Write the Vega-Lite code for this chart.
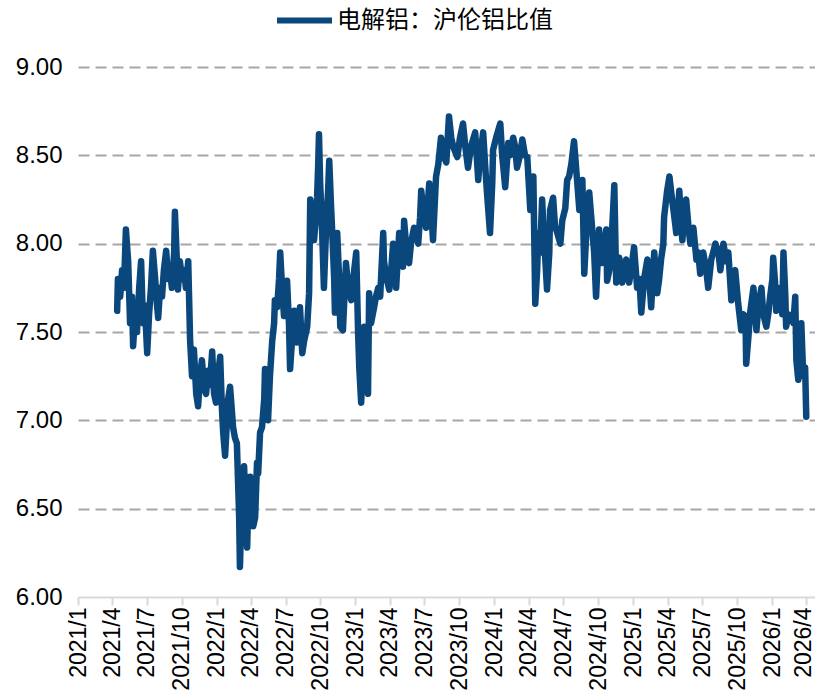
{
  "$schema": "https://vega.github.io/schema/vega-lite/v6.json",
  "width": 737,
  "height": 530,
  "autosize": {"type": "none"},
  "padding": {"left": 78, "top": 67, "right": 0, "bottom": 102},
  "background": "white",
  "config": {"view": {"stroke": null}, "font": "Liberation Sans"},
  "data": {
    "values": [
      {"date": "2021-04-14", "ratio": 7.62}, {"date": "2021-04-16", "ratio": 7.80}, {"date": "2021-04-22", "ratio": 7.70},
      {"date": "2021-04-27", "ratio": 7.85}, {"date": "2021-05-02", "ratio": 7.75}, {"date": "2021-05-07", "ratio": 8.08},
      {"date": "2021-05-13", "ratio": 7.90}, {"date": "2021-05-18", "ratio": 7.55}, {"date": "2021-05-23", "ratio": 7.70},
      {"date": "2021-05-26", "ratio": 7.42}, {"date": "2021-05-31", "ratio": 7.60}, {"date": "2021-06-05", "ratio": 7.50},
      {"date": "2021-06-11", "ratio": 7.75}, {"date": "2021-06-16", "ratio": 7.90}, {"date": "2021-06-21", "ratio": 7.55},
      {"date": "2021-06-26", "ratio": 7.65}, {"date": "2021-07-02", "ratio": 7.38}, {"date": "2021-07-07", "ratio": 7.60},
      {"date": "2021-07-12", "ratio": 7.75}, {"date": "2021-07-17", "ratio": 7.96}, {"date": "2021-07-23", "ratio": 7.80},
      {"date": "2021-07-28", "ratio": 7.65}, {"date": "2021-07-31", "ratio": 7.58}, {"date": "2021-08-05", "ratio": 7.75},
      {"date": "2021-08-10", "ratio": 7.70}, {"date": "2021-08-15", "ratio": 7.85}, {"date": "2021-08-21", "ratio": 7.96},
      {"date": "2021-08-26", "ratio": 7.80}, {"date": "2021-08-31", "ratio": 7.85}, {"date": "2021-09-05", "ratio": 7.75},
      {"date": "2021-09-11", "ratio": 7.95}, {"date": "2021-09-13", "ratio": 8.18}, {"date": "2021-09-19", "ratio": 7.85},
      {"date": "2021-09-21", "ratio": 7.74}, {"date": "2021-09-26", "ratio": 7.90}, {"date": "2021-10-02", "ratio": 7.80},
      {"date": "2021-10-07", "ratio": 7.85}, {"date": "2021-10-12", "ratio": 7.75}, {"date": "2021-10-18", "ratio": 7.90},
      {"date": "2021-10-23", "ratio": 7.45}, {"date": "2021-10-28", "ratio": 7.25}, {"date": "2021-11-02", "ratio": 7.40},
      {"date": "2021-11-08", "ratio": 7.15}, {"date": "2021-11-13", "ratio": 7.08}, {"date": "2021-11-18", "ratio": 7.25},
      {"date": "2021-11-23", "ratio": 7.34}, {"date": "2021-11-29", "ratio": 7.18}, {"date": "2021-12-04", "ratio": 7.15},
      {"date": "2021-12-09", "ratio": 7.28}, {"date": "2021-12-14", "ratio": 7.20}, {"date": "2021-12-20", "ratio": 7.39},
      {"date": "2021-12-25", "ratio": 7.15}, {"date": "2021-12-30", "ratio": 7.10}, {"date": "2022-01-04", "ratio": 7.25},
      {"date": "2022-01-10", "ratio": 7.36}, {"date": "2022-01-15", "ratio": 7.05}, {"date": "2022-01-18", "ratio": 6.93},
      {"date": "2022-01-23", "ratio": 6.80}, {"date": "2022-01-28", "ratio": 7.00}, {"date": "2022-01-31", "ratio": 7.12},
      {"date": "2022-02-05", "ratio": 7.19}, {"date": "2022-02-10", "ratio": 7.05}, {"date": "2022-02-13", "ratio": 6.96},
      {"date": "2022-02-18", "ratio": 6.90}, {"date": "2022-02-23", "ratio": 6.87}, {"date": "2022-02-26", "ratio": 6.66},
      {"date": "2022-03-01", "ratio": 6.45}, {"date": "2022-03-03", "ratio": 6.17}, {"date": "2022-03-06", "ratio": 6.40},
      {"date": "2022-03-09", "ratio": 6.66}, {"date": "2022-03-14", "ratio": 6.74}, {"date": "2022-03-17", "ratio": 6.55},
      {"date": "2022-03-22", "ratio": 6.28}, {"date": "2022-03-24", "ratio": 6.45}, {"date": "2022-03-30", "ratio": 6.68},
      {"date": "2022-04-04", "ratio": 6.50}, {"date": "2022-04-07", "ratio": 6.40}, {"date": "2022-04-12", "ratio": 6.45},
      {"date": "2022-04-17", "ratio": 6.76}, {"date": "2022-04-20", "ratio": 6.70}, {"date": "2022-04-25", "ratio": 6.93},
      {"date": "2022-04-30", "ratio": 6.96}, {"date": "2022-05-06", "ratio": 7.12}, {"date": "2022-05-08", "ratio": 7.29},
      {"date": "2022-05-13", "ratio": 7.10}, {"date": "2022-05-16", "ratio": 7.00}, {"date": "2022-05-21", "ratio": 7.25},
      {"date": "2022-05-27", "ratio": 7.45}, {"date": "2022-06-01", "ratio": 7.55}, {"date": "2022-06-03", "ratio": 7.68},
      {"date": "2022-06-09", "ratio": 7.64}, {"date": "2022-06-14", "ratio": 7.80}, {"date": "2022-06-17", "ratio": 7.95},
      {"date": "2022-06-22", "ratio": 7.75}, {"date": "2022-06-27", "ratio": 7.59}, {"date": "2022-07-02", "ratio": 7.70},
      {"date": "2022-07-05", "ratio": 7.79}, {"date": "2022-07-10", "ratio": 7.55}, {"date": "2022-07-13", "ratio": 7.29},
      {"date": "2022-07-18", "ratio": 7.45}, {"date": "2022-07-24", "ratio": 7.62}, {"date": "2022-07-29", "ratio": 7.50},
      {"date": "2022-07-31", "ratio": 7.44}, {"date": "2022-08-06", "ratio": 7.55}, {"date": "2022-08-08", "ratio": 7.64},
      {"date": "2022-08-14", "ratio": 7.38}, {"date": "2022-08-19", "ratio": 7.45}, {"date": "2022-08-27", "ratio": 7.53},
      {"date": "2022-09-01", "ratio": 7.72}, {"date": "2022-09-04", "ratio": 8.25}, {"date": "2022-09-09", "ratio": 8.10},
      {"date": "2022-09-14", "ratio": 8.02}, {"date": "2022-09-19", "ratio": 8.15}, {"date": "2022-09-22", "ratio": 8.26},
      {"date": "2022-09-25", "ratio": 8.45}, {"date": "2022-09-27", "ratio": 8.62}, {"date": "2022-09-30", "ratio": 8.35},
      {"date": "2022-10-05", "ratio": 8.09}, {"date": "2022-10-10", "ratio": 7.75}, {"date": "2022-10-16", "ratio": 8.10},
      {"date": "2022-10-21", "ratio": 8.30}, {"date": "2022-10-24", "ratio": 8.47}, {"date": "2022-10-29", "ratio": 8.20},
      {"date": "2022-11-01", "ratio": 8.06}, {"date": "2022-11-06", "ratio": 7.80}, {"date": "2022-11-08", "ratio": 7.61},
      {"date": "2022-11-14", "ratio": 8.06}, {"date": "2022-11-19", "ratio": 7.80}, {"date": "2022-11-22", "ratio": 7.53},
      {"date": "2022-11-29", "ratio": 7.51}, {"date": "2022-12-07", "ratio": 7.89}, {"date": "2022-12-13", "ratio": 7.75},
      {"date": "2022-12-21", "ratio": 7.68}, {"date": "2022-12-26", "ratio": 7.80}, {"date": "2023-01-03", "ratio": 7.95},
      {"date": "2023-01-08", "ratio": 7.49}, {"date": "2023-01-11", "ratio": 7.30}, {"date": "2023-01-16", "ratio": 7.10},
      {"date": "2023-01-19", "ratio": 7.25}, {"date": "2023-01-24", "ratio": 7.53}, {"date": "2023-01-29", "ratio": 7.35},
      {"date": "2023-02-03", "ratio": 7.15}, {"date": "2023-02-06", "ratio": 7.72}, {"date": "2023-02-11", "ratio": 7.55},
      {"date": "2023-02-19", "ratio": 7.64}, {"date": "2023-02-24", "ratio": 7.70}, {"date": "2023-03-02", "ratio": 7.75},
      {"date": "2023-03-07", "ratio": 7.70}, {"date": "2023-03-15", "ratio": 8.06}, {"date": "2023-03-17", "ratio": 7.90},
      {"date": "2023-03-23", "ratio": 7.81}, {"date": "2023-03-31", "ratio": 7.74}, {"date": "2023-04-05", "ratio": 7.85},
      {"date": "2023-04-10", "ratio": 8.00}, {"date": "2023-04-15", "ratio": 7.85}, {"date": "2023-04-18", "ratio": 7.75},
      {"date": "2023-04-26", "ratio": 8.06}, {"date": "2023-05-01", "ratio": 7.95}, {"date": "2023-05-06", "ratio": 7.87},
      {"date": "2023-05-09", "ratio": 8.13}, {"date": "2023-05-14", "ratio": 8.00}, {"date": "2023-05-22", "ratio": 7.89},
      {"date": "2023-05-27", "ratio": 8.00}, {"date": "2023-06-04", "ratio": 8.09}, {"date": "2023-06-10", "ratio": 8.05},
      {"date": "2023-06-15", "ratio": 8.00}, {"date": "2023-06-20", "ratio": 8.15}, {"date": "2023-06-23", "ratio": 8.30},
      {"date": "2023-06-28", "ratio": 8.20}, {"date": "2023-07-06", "ratio": 8.09}, {"date": "2023-07-14", "ratio": 8.34},
      {"date": "2023-07-19", "ratio": 8.20}, {"date": "2023-07-24", "ratio": 8.02}, {"date": "2023-08-01", "ratio": 8.38},
      {"date": "2023-08-07", "ratio": 8.45}, {"date": "2023-08-14", "ratio": 8.60}, {"date": "2023-08-20", "ratio": 8.50},
      {"date": "2023-08-28", "ratio": 8.46}, {"date": "2023-09-04", "ratio": 8.72}, {"date": "2023-09-10", "ratio": 8.60},
      {"date": "2023-09-15", "ratio": 8.55}, {"date": "2023-09-26", "ratio": 8.49}, {"date": "2023-10-03", "ratio": 8.60},
      {"date": "2023-10-11", "ratio": 8.68}, {"date": "2023-10-17", "ratio": 8.55}, {"date": "2023-10-24", "ratio": 8.43},
      {"date": "2023-11-01", "ratio": 8.55}, {"date": "2023-11-12", "ratio": 8.63}, {"date": "2023-11-20", "ratio": 8.36},
      {"date": "2023-11-25", "ratio": 8.50}, {"date": "2023-12-03", "ratio": 8.63}, {"date": "2023-12-08", "ratio": 8.45},
      {"date": "2023-12-13", "ratio": 8.29}, {"date": "2023-12-21", "ratio": 8.06}, {"date": "2023-12-27", "ratio": 8.35},
      {"date": "2023-12-29", "ratio": 8.53}, {"date": "2024-01-06", "ratio": 8.60}, {"date": "2024-01-17", "ratio": 8.68},
      {"date": "2024-01-22", "ratio": 8.50}, {"date": "2024-01-30", "ratio": 8.32}, {"date": "2024-02-07", "ratio": 8.57},
      {"date": "2024-02-12", "ratio": 8.50}, {"date": "2024-02-20", "ratio": 8.60}, {"date": "2024-02-25", "ratio": 8.55},
      {"date": "2024-03-01", "ratio": 8.43}, {"date": "2024-03-09", "ratio": 8.50}, {"date": "2024-03-15", "ratio": 8.59},
      {"date": "2024-03-22", "ratio": 8.50}, {"date": "2024-03-28", "ratio": 8.49}, {"date": "2024-04-05", "ratio": 8.19},
      {"date": "2024-04-10", "ratio": 8.30}, {"date": "2024-04-13", "ratio": 8.38}, {"date": "2024-04-18", "ratio": 7.66},
      {"date": "2024-04-23", "ratio": 7.85}, {"date": "2024-04-26", "ratio": 8.06}, {"date": "2024-05-01", "ratio": 7.95},
      {"date": "2024-05-06", "ratio": 8.25}, {"date": "2024-05-12", "ratio": 8.00}, {"date": "2024-05-19", "ratio": 7.74},
      {"date": "2024-05-25", "ratio": 7.95}, {"date": "2024-05-27", "ratio": 8.19}, {"date": "2024-06-04", "ratio": 8.26},
      {"date": "2024-06-09", "ratio": 8.10}, {"date": "2024-06-15", "ratio": 8.06}, {"date": "2024-06-23", "ratio": 8.00},
      {"date": "2024-06-28", "ratio": 8.13}, {"date": "2024-07-06", "ratio": 8.20}, {"date": "2024-07-11", "ratio": 8.36},
      {"date": "2024-07-16", "ratio": 8.38}, {"date": "2024-07-22", "ratio": 8.45}, {"date": "2024-07-29", "ratio": 8.58},
      {"date": "2024-08-06", "ratio": 8.36}, {"date": "2024-08-12", "ratio": 8.19}, {"date": "2024-08-20", "ratio": 8.36},
      {"date": "2024-08-25", "ratio": 7.83}, {"date": "2024-08-30", "ratio": 8.05}, {"date": "2024-09-07", "ratio": 8.29},
      {"date": "2024-09-15", "ratio": 8.08}, {"date": "2024-09-20", "ratio": 7.95}, {"date": "2024-09-25", "ratio": 7.70},
      {"date": "2024-10-03", "ratio": 8.08}, {"date": "2024-10-11", "ratio": 7.89}, {"date": "2024-10-16", "ratio": 7.95},
      {"date": "2024-10-22", "ratio": 8.08}, {"date": "2024-10-24", "ratio": 7.79}, {"date": "2024-10-30", "ratio": 7.85},
      {"date": "2024-11-04", "ratio": 7.98}, {"date": "2024-11-12", "ratio": 8.33}, {"date": "2024-11-17", "ratio": 7.78},
      {"date": "2024-11-25", "ratio": 7.92}, {"date": "2024-12-03", "ratio": 7.78}, {"date": "2024-12-08", "ratio": 7.85},
      {"date": "2024-12-13", "ratio": 7.91}, {"date": "2024-12-21", "ratio": 7.78}, {"date": "2024-12-26", "ratio": 7.85},
      {"date": "2025-01-03", "ratio": 7.98}, {"date": "2025-01-11", "ratio": 7.75}, {"date": "2025-01-17", "ratio": 7.80},
      {"date": "2025-01-22", "ratio": 7.61}, {"date": "2025-01-30", "ratio": 7.81}, {"date": "2025-02-07", "ratio": 7.91},
      {"date": "2025-02-12", "ratio": 7.80}, {"date": "2025-02-17", "ratio": 7.64}, {"date": "2025-02-25", "ratio": 7.95},
      {"date": "2025-03-05", "ratio": 7.72}, {"date": "2025-03-10", "ratio": 7.80}, {"date": "2025-03-15", "ratio": 7.91},
      {"date": "2025-03-21", "ratio": 8.00}, {"date": "2025-03-23", "ratio": 8.15}, {"date": "2025-03-31", "ratio": 8.30},
      {"date": "2025-04-06", "ratio": 8.38}, {"date": "2025-04-13", "ratio": 8.25}, {"date": "2025-04-19", "ratio": 8.15},
      {"date": "2025-04-24", "ratio": 8.06}, {"date": "2025-05-02", "ratio": 8.30}, {"date": "2025-05-07", "ratio": 8.10},
      {"date": "2025-05-10", "ratio": 8.02}, {"date": "2025-05-15", "ratio": 8.15}, {"date": "2025-05-20", "ratio": 8.25},
      {"date": "2025-05-26", "ratio": 8.10}, {"date": "2025-05-31", "ratio": 8.00}, {"date": "2025-06-08", "ratio": 8.09},
      {"date": "2025-06-16", "ratio": 7.91}, {"date": "2025-06-21", "ratio": 7.95}, {"date": "2025-06-26", "ratio": 7.83},
      {"date": "2025-07-04", "ratio": 7.95}, {"date": "2025-07-12", "ratio": 7.85}, {"date": "2025-07-17", "ratio": 7.75},
      {"date": "2025-07-25", "ratio": 7.91}, {"date": "2025-07-30", "ratio": 7.95}, {"date": "2025-08-05", "ratio": 8.00},
      {"date": "2025-08-13", "ratio": 7.95}, {"date": "2025-08-18", "ratio": 7.85}, {"date": "2025-08-26", "ratio": 8.00},
      {"date": "2025-09-03", "ratio": 7.90}, {"date": "2025-09-08", "ratio": 7.95}, {"date": "2025-09-16", "ratio": 7.68},
      {"date": "2025-09-21", "ratio": 7.80}, {"date": "2025-09-26", "ratio": 7.85}, {"date": "2025-10-04", "ratio": 7.66},
      {"date": "2025-10-12", "ratio": 7.51}, {"date": "2025-10-17", "ratio": 7.60}, {"date": "2025-10-23", "ratio": 7.59},
      {"date": "2025-10-25", "ratio": 7.32}, {"date": "2025-10-30", "ratio": 7.45}, {"date": "2025-11-05", "ratio": 7.62},
      {"date": "2025-11-13", "ratio": 7.75}, {"date": "2025-11-18", "ratio": 7.60}, {"date": "2025-11-21", "ratio": 7.51},
      {"date": "2025-11-26", "ratio": 7.65}, {"date": "2025-12-04", "ratio": 7.75}, {"date": "2025-12-09", "ratio": 7.60},
      {"date": "2025-12-17", "ratio": 7.53}, {"date": "2025-12-22", "ratio": 7.60}, {"date": "2025-12-27", "ratio": 7.70},
      {"date": "2026-01-02", "ratio": 7.80}, {"date": "2026-01-04", "ratio": 7.92}, {"date": "2026-01-10", "ratio": 7.75},
      {"date": "2026-01-12", "ratio": 7.62}, {"date": "2026-01-17", "ratio": 7.70}, {"date": "2026-01-23", "ratio": 7.75},
      {"date": "2026-01-28", "ratio": 7.60}, {"date": "2026-01-31", "ratio": 7.95}, {"date": "2026-02-05", "ratio": 7.70},
      {"date": "2026-02-07", "ratio": 7.53}, {"date": "2026-02-13", "ratio": 7.60}, {"date": "2026-02-21", "ratio": 7.59},
      {"date": "2026-02-26", "ratio": 7.55}, {"date": "2026-03-03", "ratio": 7.70}, {"date": "2026-03-06", "ratio": 7.34},
      {"date": "2026-03-11", "ratio": 7.23}, {"date": "2026-03-16", "ratio": 7.40}, {"date": "2026-03-19", "ratio": 7.55},
      {"date": "2026-03-24", "ratio": 7.25}, {"date": "2026-03-29", "ratio": 7.30}, {"date": "2026-04-01", "ratio": 7.02}
    ]
  },
  "mark": {"type": "line", "strokeWidth": 6.5, "strokeJoin": "round", "strokeCap": "round"},
  "encoding": {
    "x": {
      "field": "date",
      "type": "temporal",
      "scale": {
        "type": "utc",
        "domain": [
          {"year": 2021, "month": 1, "date": 1, "utc": true},
          {"year": 2026, "month": 4, "date": 24, "utc": true}
        ]
      },
      "axis": {
        "title": null,
        "values": [
          {"year": 2021, "month": 1, "date": 1, "utc": true}, {"year": 2021, "month": 4, "date": 1, "utc": true},
          {"year": 2021, "month": 7, "date": 1, "utc": true}, {"year": 2021, "month": 10, "date": 1, "utc": true},
          {"year": 2022, "month": 1, "date": 1, "utc": true}, {"year": 2022, "month": 4, "date": 1, "utc": true},
          {"year": 2022, "month": 7, "date": 1, "utc": true}, {"year": 2022, "month": 10, "date": 1, "utc": true},
          {"year": 2023, "month": 1, "date": 1, "utc": true}, {"year": 2023, "month": 4, "date": 1, "utc": true},
          {"year": 2023, "month": 7, "date": 1, "utc": true}, {"year": 2023, "month": 10, "date": 1, "utc": true},
          {"year": 2024, "month": 1, "date": 1, "utc": true}, {"year": 2024, "month": 4, "date": 1, "utc": true},
          {"year": 2024, "month": 7, "date": 1, "utc": true}, {"year": 2024, "month": 10, "date": 1, "utc": true},
          {"year": 2025, "month": 1, "date": 1, "utc": true}, {"year": 2025, "month": 4, "date": 1, "utc": true},
          {"year": 2025, "month": 7, "date": 1, "utc": true}, {"year": 2025, "month": 10, "date": 1, "utc": true},
          {"year": 2026, "month": 1, "date": 1, "utc": true}, {"year": 2026, "month": 4, "date": 1, "utc": true}
        ],
        "format": "%Y/%-m",
        "labelAngle": -90,
        "labelFont": "Liberation Sans",
        "labelFontSize": 23,
        "labelColor": "#000000",
        "labelPadding": 2,
        "labelOffset": {"condition": {"test": "datum.label === '2026/4'", "value": -3}, "value": 0},
        "labelOverlap": false,
        "labelBound": false,
        "labelFlush": false,
        "tickSize": 8,
        "tickColor": "#d9d9d9",
        "tickWidth": 2,
        "domainColor": "#d9d9d9",
        "domainWidth": 2,
        "grid": false
      }
    },
    "y": {
      "field": "ratio",
      "type": "quantitative",
      "scale": {"domain": [6, 9], "nice": false, "zero": false},
      "axis": {
        "title": null,
        "values": [6, 6.5, 7, 7.5, 8, 8.5, 9],
        "format": ".2f",
        "labelFont": "Liberation Sans",
        "labelFontSize": 24,
        "labelColor": "#000000",
        "labelPadding": 16,
        "domain": false,
        "ticks": false,
        "grid": true,
        "gridColor": "#a6a6a6",
        "gridDash": [11, 6],
        "gridWidth": 2,
        "gridOpacity": {"condition": {"test": "datum.value === 6", "value": 0}, "value": 1}
      }
    },
    "color": {
      "datum": "电解铝：沪伦铝比值",
      "type": "nominal",
      "scale": {"range": ["#0a477c"]},
      "legend": {
        "title": null,
        "orient": "none",
        "legendX": 196,
        "legendY": -77,
        "symbolType": "stroke",
        "symbolSize": 3025,
        "symbolStrokeWidth": 6,
        "labelFont": "Noto Sans CJK SC",
        "labelFontSize": 24,
        "labelLimit": 400,
        "labelColor": "#000000",
        "labelOffset": 2
      }
    }
  }
}
